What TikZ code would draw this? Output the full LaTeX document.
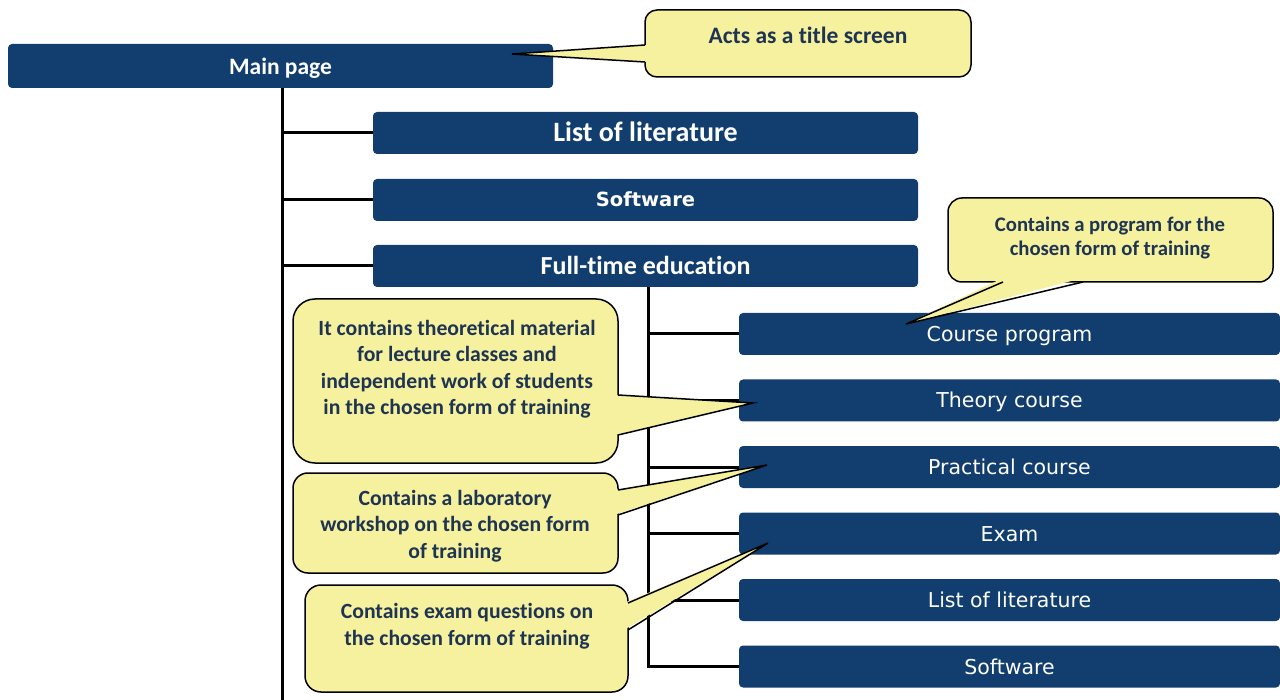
\documentclass[tikz,border=0pt]{standalone}
\usepackage{fontspec}
\setmainfont[Ligatures={NoCommon}]{Carlito}
\newfontfamily\dejavu{DejaVu Sans}
\usetikzlibrary{positioning}
\definecolor{navy}{RGB}{17,62,110}
\definecolor{noteyellow}{RGB}{245,241,158}
\definecolor{notetext}{RGB}{30,52,82}

\begin{document}
\begin{tikzpicture}
	[x=1pt,y=-1pt,
	box/.style={fill=navy,rounded corners=4,text=white,inner sep=0pt,minimum height=42,text depth=0pt},
	mainbox/.style={box,minimum width=545,minimum height=44,text height=17pt,
		font=\fontsize{23.5}{25}\selectfont\bfseries},
	topbox/.style={box,minimum width=545},
	subbox/.style={box,minimum width=541,text height=15pt,font=\dejavu\fontsize{20.5}{24}\selectfont},
	note/.style={draw=black,fill=noteyellow,line width=1.5,inner sep=0pt},
	pointer/.style={fill=noteyellow},
	pointerline/.style={draw=black,line width=1.5},
	notetext/.style={text=notetext,align=center,inner sep=0pt,font=\fontsize{21.7}{26.5}\selectfont\bfseries},
	tree/.style={draw=black,line width=3}]
	\clip (0,0) rectangle (1280,700);
	
	% main page and first level
	\node[mainbox] (main) at (280.5,66) {Main page};
	\node[topbox,text height=18pt,font=\fontsize{28}{30}\selectfont\bfseries] (lit) at (645.5,133) {List of literature};
	\node[topbox,text height=14pt,font=\dejavu\fontsize{19.5}{22}\selectfont\bfseries] (soft) at (645.5,200) {Software};
	\node[topbox,text height=17pt,font=\fontsize{26}{28}\selectfont\bfseries] (full) at (645.5,266) {Full-time education};
	
	% second level
	\foreach \name/\ypos/\label in {prog/334/Course program,theo/400.5/Theory course,
		prac/467/Practical course,exam/533.5/Exam,lit2/600/List of literature,soft2/666.5/Software}
	\node[subbox] (\name) at (1009.5,\ypos) {\label};
	
	% tree lines
	\coordinate (top1) at ([xshift=1.5]main.south);
	\coordinate (bottom) at (top1 |- 0,702);
	\coordinate (top2) at ([xshift=2.5]full.south);
	\draw[tree] (top1) -- (bottom);
	\path
	\foreach \endNode in {lit,soft,full}
	{
		(top1 |- \endNode.west) edge[tree] (\endNode.west)
	};
	\draw[tree] (top2) -- (top2 |- soft2.west) -- (soft2.west);
	\path
	\foreach \endNode in {prog,theo,prac,exam,lit2}
	{
		(top2 |- \endNode.west) edge[tree] (\endNode.west)
	};
	
	% callouts
	\node[note,rounded corners=12,minimum width=326,minimum height=67] (titlebox) at (808,43.5) {};
	\fill[pointer] (649,45) -- (512,54) -- (649,62) -- cycle;
	\draw[pointerline] (645,45) -- (512,54) -- (645,62);
	\node[notetext,font=\fontsize{23.5}{26}\selectfont\bfseries] (titlenote) at (808,35) {Acts as a title screen};
	
	\node[note,rounded corners=14,minimum width=325,minimum height=84] (progbox) at (1110.5,240) {};
	\fill[pointer] (1003,278) -- (906,324) -- (1083,278) -- cycle;
	\draw[pointerline] (1003,282) -- (906,324) -- (1083,282);
	\node[notetext,font=\fontsize{20.7}{24}\selectfont\bfseries] (prognote) at (1110,238) {Contains a program for the\\chosen form of training};
	
	\node[note,rounded corners=22,minimum width=325,minimum height=164] (theobox) at (455.5,381) {};
	\fill[pointer] (614,395) -- (753,403) -- (614,435) -- cycle;
	\draw[pointerline] (618,395) -- (753,403) -- (618,435);
	\node[notetext] (theonote) at (457,369) {It contains theoretical material\\for lecture classes and\\independent work of students\\in the chosen form of training};
	
	\node[note,rounded corners=15,minimum width=325,minimum height=100] (pracbox) at (455.5,523) {};
	\fill[pointer] (614,490) -- (767,465) -- (614,515) -- cycle;
	\draw[pointerline] (618,490) -- (767,465) -- (618,515);
	\node[notetext] (pracnote) at (455,526) {Contains a laboratory\\workshop on the chosen form\\of training};
	
	\node[note,rounded corners=16,minimum width=323,minimum height=107] (exambox) at (466.5,638.5) {};
	\fill[pointer] (624,603) -- (768,543) -- (624,630) -- cycle;
	\draw[pointerline] (628,603) -- (768,543) -- (628,630);
	\node[notetext] (examnote) at (467,626) {Contains exam questions on\\the chosen form of training};
\end{tikzpicture}
\end{document}
